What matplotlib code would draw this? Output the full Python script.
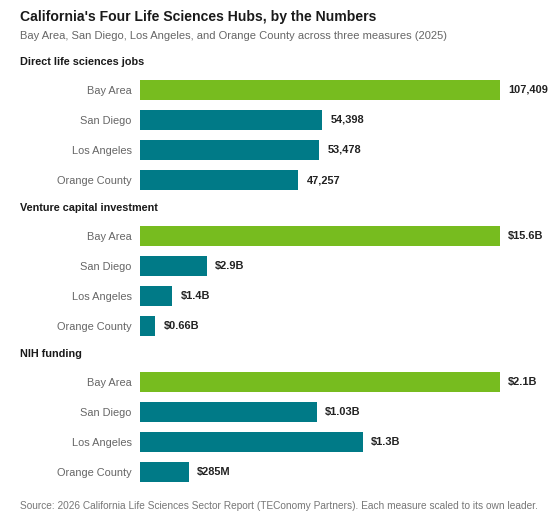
import numpy as np
import matplotlib
matplotlib.use("Agg")
import matplotlib.pyplot as plt

plt.rcParams['font.family'] = ['Liberation Sans', 'DejaVu Sans']

# data
hubs = ["Bay Area", "San Diego", "Los Angeles", "Orange County"]
measures = ["Direct life sciences jobs", "Venture capital investment", "NIH funding"]
jobs = [107409, 54398, 53478, 47257]
vc_billion = [15.6, 2.9, 1.4, 0.66]
nih_billion = [2.1, 1.03, 1.3, 0.285]
jobs_labels = ["107,409", "54,398", "53,478", "47,257"]
vc_labels = ["$15.6B", "$2.9B", "$1.4B", "$0.66B"]
nih_labels = ["$2.1B", "$1.03B", "$1.3B", "$285M"]
panels = [(jobs, jobs_labels), (vc_billion, vc_labels), (nih_billion, nih_labels)]

GREEN = "#77bc1f"
TEAL = "#007a87"
W, H = 560, 528

fig = plt.figure(figsize=(W / 100, H / 100), dpi=100)
fig.patch.set_facecolor("white")

def fy(py):
    # pixel y (from top) -> figure fraction
    return 1 - py / H

fig.text(20 / W, fy(17), "California's Four Life Sciences Hubs, by the Numbers",
         fontsize=10.1, fontweight="bold", color="#1a1a1a", va="center", ha="left")
fig.text(20 / W, fy(36), "Bay Area, San Diego, Los Angeles, and Orange County across three measures (2025)",
         fontsize=8.0, color="#666666", va="center", ha="left")

for k, (name, (vals, labs)) in enumerate(zip(measures, panels)):
    off = 146 * k
    fig.text(20 / W, fy(62 + off), name, fontsize=7.8, fontweight="bold",
             color="#1a1a1a", va="center", ha="left")
    # axes spanning the four rows of this panel
    top, bot = 75 + off, 195 + off
    ax = fig.add_axes([140 / W, fy(bot), 360 / W, (bot - top) / H])
    vals = np.array(vals, dtype=float)
    scaled = vals / vals.max()
    colors = [GREEN if v == vals.max() else TEAL for v in vals]
    y = np.arange(len(hubs))
    ax.barh(y, scaled, height=0.667, color=colors)
    ax.set_xlim(0, 1)
    ax.set_ylim(3.5, -0.5)
    ax.set_yticks(y)
    ax.set_yticklabels(hubs, fontsize=7.9, color="#666666")
    ax.tick_params(axis="y", length=0, pad=6)
    ax.set_xticks([])
    for s in ax.spines.values():
        s.set_visible(False)
    ax.patch.set_alpha(0)
    for yi, (v, lab) in enumerate(zip(scaled, labs)):
        ax.annotate(lab, (v, yi), xytext=(6, 0), textcoords="offset points",
                    fontsize=7.9, fontweight="bold", color="#222222",
                    va="center", ha="left", annotation_clip=False)

fig.text(20 / W, fy(506), "Source: 2026 California Life Sciences Sector Report (TEConomy Partners). Each measure scaled to its own leader.",
         fontsize=7.3, color="#777777", va="center", ha="left")

fig.savefig("out.png", dpi=100, facecolor="white")
